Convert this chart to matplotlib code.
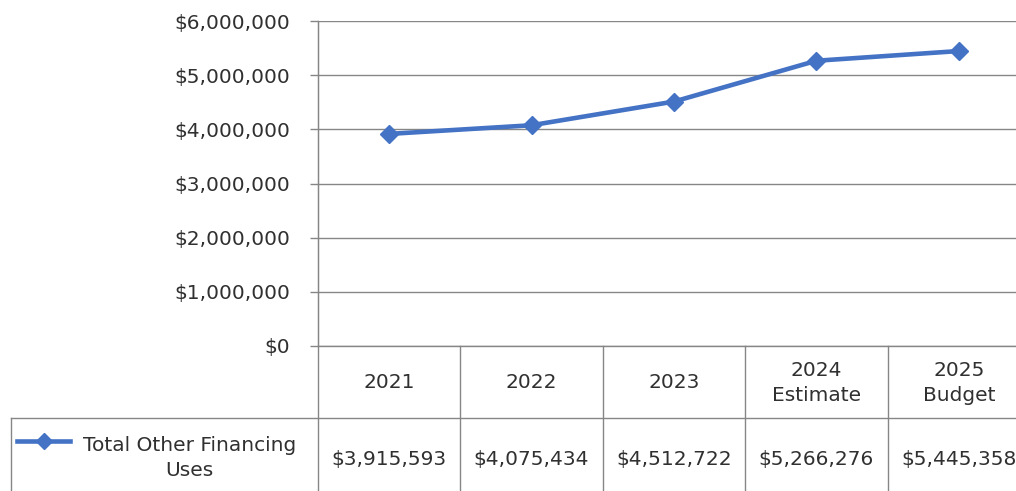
import matplotlib.pyplot as plt
import matplotlib.ticker as mticker
from matplotlib.lines import Line2D

plt.rcParams.update({
    'font.family': ['DejaVu Sans'],
    'font.size': 14.5,
    'text.color': '#303030',
})

# dados
anos = ['2021', '2022', '2023', '2024\nEstimate', '2025\nBudget']
valores = [3915593, 4075434, 4512722, 5266276, 5445358]
serie = 'Total Other Financing\nUses'
yticks = [0, 1000000, 2000000, 3000000, 4000000, 5000000, 6000000]

AZUL = '#4472C4'
CINZA = '#868686'

W, H = 1016, 491
fig = plt.figure(figsize=(W / 100, H / 100), dpi=100)
fig.patch.set_facecolor('white')

# área do gráfico (pixels -> fração)
x0, x1 = 318, 1030
ytop, ybot = 21, 346
ax = fig.add_axes([x0 / W, (H - ybot) / H, (x1 - x0) / W, (ybot - ytop) / H])

pos = [i + 0.5 for i in range(len(anos))]
ax.plot(pos, valores, color=AZUL, linewidth=3.3, marker='D', markersize=9,
        markeredgecolor=AZUL, zorder=3, clip_on=False)

ax.set_xlim(0, len(anos))
ax.set_ylim(0, 6000000)
ax.set_yticks(yticks)
ax.yaxis.set_major_formatter(mticker.FuncFormatter(lambda v, p: '${:,.0f}'.format(v)))
ax.set_xticks([])
ax.grid(axis='y', color=CINZA, linewidth=1)
ax.axhline(0, color=CINZA, linewidth=1, clip_on=False, zorder=1)
ax.tick_params(axis='y', length=6, color=CINZA, width=1, pad=14, labelsize=14.5,
               labelcolor='#303030')
for s in ['top', 'right', 'bottom']:
    ax.spines[s].set_visible(False)
ax.spines['left'].set_color(CINZA)
ax.set_axisbelow(True)

# tabela de dados (eixo x em dados, eixo y em fração do eixo)
tr = ax.get_xaxis_transform()
row1 = (346 - 418) / (ybot - ytop)
fundo = (346 - 495) / (ybot - ytop)
x_leg = (12 - x0) / 142

linhas = [
    Line2D([0, 0], [1, fundo]),
    Line2D([x_leg, len(anos)], [row1, row1]),
    Line2D([x_leg, x_leg], [row1, fundo]),
]
for i in range(1, len(anos)):
    linhas.append(Line2D([i, i], [0, fundo]))
for ln in linhas:
    ln.set_transform(tr)
    ln.set_color(CINZA)
    ln.set_linewidth(1)
    ln.set_clip_on(False)
    ax.add_line(ln)

for p, a, v in zip(pos, anos, valores):
    ax.text(p, row1 / 2 - 0.002, a, transform=tr, ha='center', va='center',
            linespacing=1.4, clip_on=False)
    ax.text(p, (row1 + fundo) / 2 - 0.008, '${:,.0f}'.format(v), transform=tr,
            ha='center', va='center', clip_on=False)

# legenda na tabela
yleg = row1 - 0.072
key = Line2D([x_leg + 0.04, x_leg + 0.23, x_leg + 0.41], [yleg, yleg, yleg],
             color=AZUL, linewidth=3.3, marker='D', markersize=8, markevery=[1],
             transform=tr, clip_on=False)
ax.add_line(key)
ax.text(-0.905, (row1 + fundo) / 2 - 0.004, serie, transform=tr, ha='center',
        va='center', linespacing=1.4, clip_on=False)

plt.savefig('out.png', dpi=100)
